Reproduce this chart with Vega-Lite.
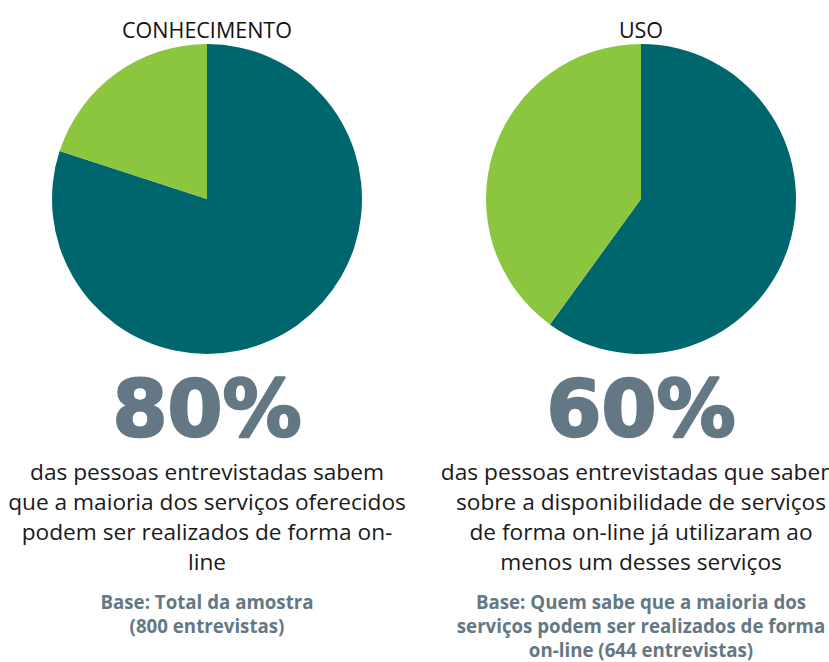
{
  "$schema": "https://vega.github.io/schema/vega-lite/v6.json",
  "padding": {"top": 20, "left": 0, "right": 0, "bottom": 0},
  "background": "white",
  "spacing": 0,
  "config": {
    "view": {"stroke": null},
    "concat": {"spacing": 0},
    "axis": {"disable": true}
  },
  "datasets": {
    "pizza": [
      {"grupo": "CONHECIMENTO", "categoria": "sim", "valor": 80},
      {"grupo": "CONHECIMENTO", "categoria": "não", "valor": 20},
      {"grupo": "USO", "categoria": "sim", "valor": 60},
      {"grupo": "USO", "categoria": "não", "valor": 40}
    ],
    "numeros": [
      {"grupo": "CONHECIMENTO", "texto": "80%"},
      {"grupo": "USO", "texto": "60%"}
    ],
    "descricao": [
      {"grupo": "CONHECIMENTO", "linha": 1, "texto": "das pessoas entrevistadas sabem"},
      {"grupo": "CONHECIMENTO", "linha": 2, "texto": "que a maioria dos serviços oferecidos"},
      {"grupo": "CONHECIMENTO", "linha": 3, "texto": "podem ser realizados de forma on-"},
      {"grupo": "CONHECIMENTO", "linha": 4, "texto": "line"},
      {"grupo": "USO", "linha": 1, "texto": "das pessoas entrevistadas que sabem"},
      {"grupo": "USO", "linha": 2, "texto": "sobre a disponibilidade de serviços"},
      {"grupo": "USO", "linha": 3, "texto": "de forma on-line já utilizaram ao"},
      {"grupo": "USO", "linha": 4, "texto": "menos um desses serviços"}
    ],
    "base": [
      {"grupo": "CONHECIMENTO", "linha": 1, "texto": "Base: Total da amostra"},
      {"grupo": "CONHECIMENTO", "linha": 2, "texto": "(800 entrevistas)"},
      {"grupo": "USO", "linha": 1, "texto": "Base: Quem sabe que a maioria dos"},
      {"grupo": "USO", "linha": 2, "texto": "serviços podem ser realizados de forma"},
      {"grupo": "USO", "linha": 3, "texto": "on-line (644 entrevistas)"}
    ]
  },
  "vconcat": [
    {
      "data": {"name": "pizza"},
      "facet": {
        "column": {
          "field": "grupo", "type": "nominal", "title": null,
          "header": {"labelFontSize": 21.5, "labelFont": "Open Sans", "labelColor": "#111111", "labelPadding": 2}
        }
      },
      "spacing": {"column": 20},
      "spec": {
        "width": 414,
        "height": 310,
        "mark": {"type": "arc", "outerRadius": 155, "strokeWidth": 0},
        "encoding": {
          "theta": {"field": "valor", "type": "quantitative", "stack": true},
          "color": {
            "field": "categoria", "type": "nominal",
            "scale": {"domain": ["sim", "não"], "range": ["#00666e", "#8cc63f"]},
            "legend": null
          },
          "order": {"field": "categoria", "sort": "descending"}
        }
      }
    },
    {
      "data": {"name": "numeros"},
      "facet": {"column": {"field": "grupo", "type": "nominal", "title": null, "header": {"labels": false}}},
      "spacing": {"column": 20},
      "spec": {
        "width": 414,
        "height": 108,
        "mark": {"type": "text", "font": "DejaVu Sans", "fontWeight": "bold", "fontSize": 79, "color": "#637884", "stroke": "#637884", "strokeWidth": 2.5, "strokeJoin": "round", "baseline": "middle", "dy": 4},
        "encoding": {"text": {"field": "texto", "type": "nominal"}}
      }
    },
    {
      "data": {"name": "descricao"},
      "facet": {"column": {"field": "grupo", "type": "nominal", "title": null, "header": {"labels": false}}},
      "spacing": {"column": 20},
      "spec": {
        "width": 414,
        "height": 112,
        "mark": {"type": "text", "font": "Open Sans", "fontSize": 22.7, "color": "#1a1a1a", "baseline": "middle"},
        "encoding": {
          "y": {"field": "linha", "type": "ordinal", "axis": null, "scale": {"domain": [1, 2, 3, 4], "padding": 0.367}},
          "text": {"field": "texto", "type": "nominal"}
        }
      }
    },
    {
      "data": {"name": "base"},
      "facet": {"column": {"field": "grupo", "type": "nominal", "title": null, "header": {"labels": false}}},
      "spacing": {"column": 20},
      "spec": {
        "width": 414,
        "height": 72,
        "mark": {"type": "text", "font": "Open Sans", "fontWeight": "bold", "fontSize": 18.7, "color": "#637884", "baseline": "middle", "dy": 16},
        "encoding": {
          "y": {"field": "linha", "type": "ordinal", "axis": null, "scale": {"domain": [1, 2, 3], "padding": 0.5}},
          "text": {"field": "texto", "type": "nominal"}
        }
      }
    }
  ]
}
